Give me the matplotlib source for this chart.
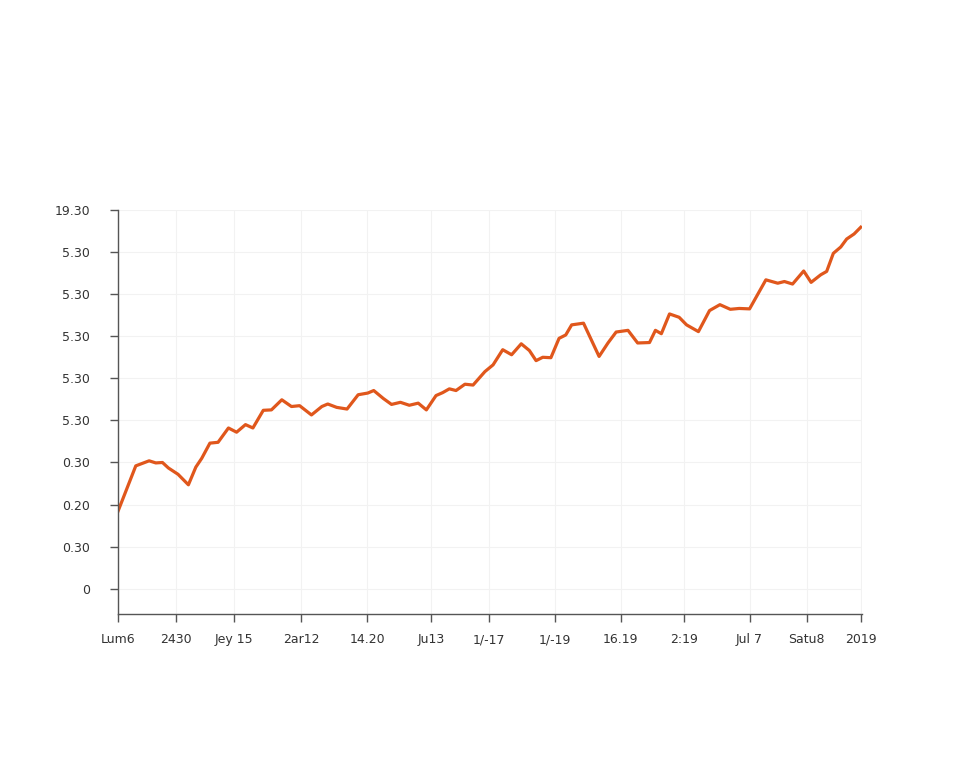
import numpy as np
import matplotlib.pyplot as plt

# valeurs
t = [0.0, 2.4, 4.2, 5.1, 6.0, 6.8, 8.1, 9.5, 10.5, 11.3, 12.4, 13.5, 14.9, 16.0,
     17.2, 18.2, 19.6, 20.7, 22.1, 23.4, 24.5, 26.1, 27.5, 28.3, 29.5, 30.9, 32.4,
     33.7, 34.5, 35.8, 36.9, 38.1, 39.3, 40.5, 41.6, 42.9, 43.8, 44.7, 45.6, 46.8,
     47.9, 49.5, 50.6, 51.9, 53.1, 54.4, 55.5, 56.4, 57.3, 58.4, 59.5, 60.4, 61.2,
     62.8, 64.9, 66.1, 67.2, 68.8, 70.1, 71.7, 72.5, 73.3, 74.4, 75.7, 76.7, 78.3,
     79.8, 81.2, 82.6, 83.8, 85.2, 87.4, 89.0, 89.9, 91.0, 92.5, 93.5, 94.8, 95.6,
     96.5, 97.5, 98.3, 99.3, 100.2]
valores = [1.84, 2.92, 3.04, 2.99, 3.00, 2.87, 2.72, 2.47, 2.89, 3.10, 3.46, 3.48,
           3.82, 3.72, 3.90, 3.82, 4.24, 4.25, 4.49, 4.33, 4.35, 4.13, 4.33, 4.39,
           4.31, 4.27, 4.61, 4.65, 4.71, 4.52, 4.38, 4.43, 4.36, 4.41, 4.25, 4.59,
           4.66, 4.75, 4.71, 4.86, 4.84, 5.16, 5.32, 5.68, 5.56, 5.82, 5.66, 5.42,
           5.50, 5.49, 5.95, 6.03, 6.27, 6.31, 5.52, 5.84, 6.10, 6.14, 5.84, 5.85,
           6.14, 6.06, 6.53, 6.45, 6.27, 6.11, 6.61, 6.75, 6.64, 6.66, 6.65, 7.34,
           7.26, 7.30, 7.24, 7.55, 7.28, 7.46, 7.54, 7.97, 8.12, 8.31, 8.43, 8.59]

x_ticks = [0, 7.8, 15.7, 24.7, 33.6, 42.2, 50.1, 58.9, 67.8, 76.4, 85.2, 92.9, 100.2]
x_etiquetas = ["Lum6", "2430", "Jey 15", "2ar12", "14.20", "Ju13", "1/-17",
               "1/-19", "16.19", "2:19", "Jul 7", "Satu8", "2019"]
y_ticks = [0, 1, 2, 3, 4, 5, 6, 7, 8, 9]
y_etiquetas = ["0", "0.30", "0.20", "0.30", "5.30", "5.30", "5.30", "5.30",
               "5.30", "19.30"]

fig = plt.figure(figsize=(9.6, 7.68), dpi=100)
ax = fig.add_axes([0.1229, 0.2005, 0.7745, 0.5261])

ax.plot(t, valores, color="#e0571c", linewidth=2.3, solid_joinstyle="round")

ax.set_xlim(0, 100.3)
ax.set_ylim(-0.6, 9.0)
ax.set_xticks(x_ticks)
ax.set_xticklabels(x_etiquetas)
ax.set_yticks(y_ticks)
ax.set_yticklabels(y_etiquetas)

ax.grid(True, color="#f2f2f2", linewidth=0.8)
ax.set_axisbelow(True)
for lado in ["top", "right"]:
    ax.spines[lado].set_visible(False)
for lado in ["left", "bottom"]:
    ax.spines[lado].set_color("#555555")
    ax.spines[lado].set_linewidth(1.0)
ax.tick_params(axis="both", colors="#555555", labelcolor="#333333",
               labelsize=9, length=6, width=1.0)
ax.tick_params(axis="x", pad=8)
ax.tick_params(axis="y", pad=14)

fig.savefig("out.png", dpi=100, facecolor="white")
